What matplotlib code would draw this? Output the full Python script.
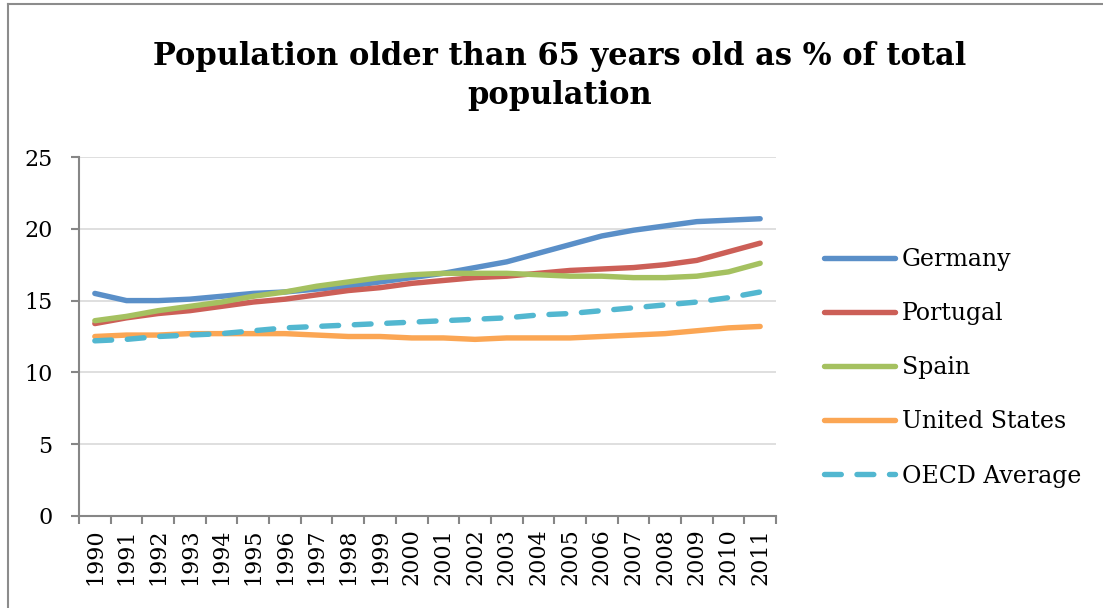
import matplotlib.pyplot as plt
from matplotlib.lines import Line2D

years = [str(y) for y in range(1990, 2012)]
germany = [15.5, 15.0, 15.0, 15.1, 15.3, 15.5, 15.6, 15.8, 16.0, 16.3, 16.6,
           16.9, 17.3, 17.7, 18.3, 18.9, 19.5, 19.9, 20.2, 20.5, 20.6, 20.7]
portugal = [13.4, 13.8, 14.1, 14.3, 14.6, 14.9, 15.1, 15.4, 15.7, 15.9, 16.2,
            16.4, 16.6, 16.7, 16.9, 17.1, 17.2, 17.3, 17.5, 17.8, 18.4, 19.0]
spain = [13.6, 13.9, 14.3, 14.6, 14.9, 15.3, 15.6, 16.0, 16.3, 16.6, 16.8,
         16.9, 16.9, 16.9, 16.8, 16.7, 16.7, 16.6, 16.6, 16.7, 17.0, 17.6]
usa = [12.5, 12.6, 12.6, 12.7, 12.7, 12.7, 12.7, 12.6, 12.5, 12.5, 12.4,
       12.4, 12.3, 12.4, 12.4, 12.4, 12.5, 12.6, 12.7, 12.9, 13.1, 13.2]
oecd = [12.2, 12.3, 12.5, 12.6, 12.7, 12.9, 13.1, 13.2, 13.3, 13.4, 13.5,
        13.6, 13.7, 13.8, 14.0, 14.1, 14.3, 14.5, 14.7, 14.9, 15.2, 15.6]

plt.rcParams['font.family'] = 'DejaVu Serif'

W, H = 1103, 608
fig = plt.figure(figsize=(W / 100, H / 100), dpi=100)
# chart border: only the left and top edges show in the crop
fig.add_artist(Line2D([7.5 / W, 7.5 / W], [0, 1 - 3.5 / H], transform=fig.transFigure,
                      color='#8c8c8c', lw=1.5))
fig.add_artist(Line2D([7.5 / W, 1], [1 - 3.5 / H, 1 - 3.5 / H], transform=fig.transFigure,
                      color='#8c8c8c', lw=1.5))

ax = fig.add_axes([79 / W, 1 - 516 / H, (776 - 79) / W, (516 - 157) / H])
x = range(len(years))
lw = 3.9
ax.plot(x, germany, color='#5A8FC8', lw=lw, solid_capstyle='round', label='Germany')
ax.plot(x, portugal, color='#CC5F57', lw=lw, solid_capstyle='round', label='Portugal')
ax.plot(x, spain, color='#A5C160', lw=lw, solid_capstyle='round', label='Spain')
ax.plot(x, usa, color='#FBA654', lw=lw, solid_capstyle='round', label='United States')
ax.plot(x, oecd, color='#52B7D0', lw=lw, dashes=(3.1, 2.9), dash_capstyle='round',
        label='OECD Average')

ax.set_xlim(-0.5, len(years) - 0.5)
ax.set_ylim(0, 25)
ax.set_yticks(range(0, 26, 5))
ax.grid(axis='y', color='#d9d9d9', lw=1.2)
ax.set_axisbelow(True)
for s in ['top', 'right']:
    ax.spines[s].set_visible(False)
for s in ['left', 'bottom']:
    ax.spines[s].set_color('#868686')
    ax.spines[s].set_linewidth(1.5)
ax.set_xticks(list(x))
ax.set_xticklabels(years, rotation=90)
ax.set_xticks([i - 0.5 for i in range(len(years) + 1)], minor=True)
ax.tick_params(axis='x', which='major', length=0, pad=9, labelsize=16)
ax.tick_params(axis='x', which='minor', length=6, width=1.5, color='#868686')
ax.tick_params(axis='y', length=6, width=1.5, color='#868686', pad=13, labelsize=16)

fig.text(560 / W, 1 - 76 / H, 'Population older than 65 years old as % of total\npopulation',
         ha='center', va='center', fontsize=22, fontweight='bold', linespacing=1.35)

fig.legend(loc='upper left', bbox_to_anchor=(824 / W, 1 - 248 / H), frameon=False,
           fontsize=17, handlelength=3.0, handletextpad=0.3, labelspacing=1.32,
           borderpad=0, borderaxespad=0)

fig.savefig('out.png', dpi=100)
